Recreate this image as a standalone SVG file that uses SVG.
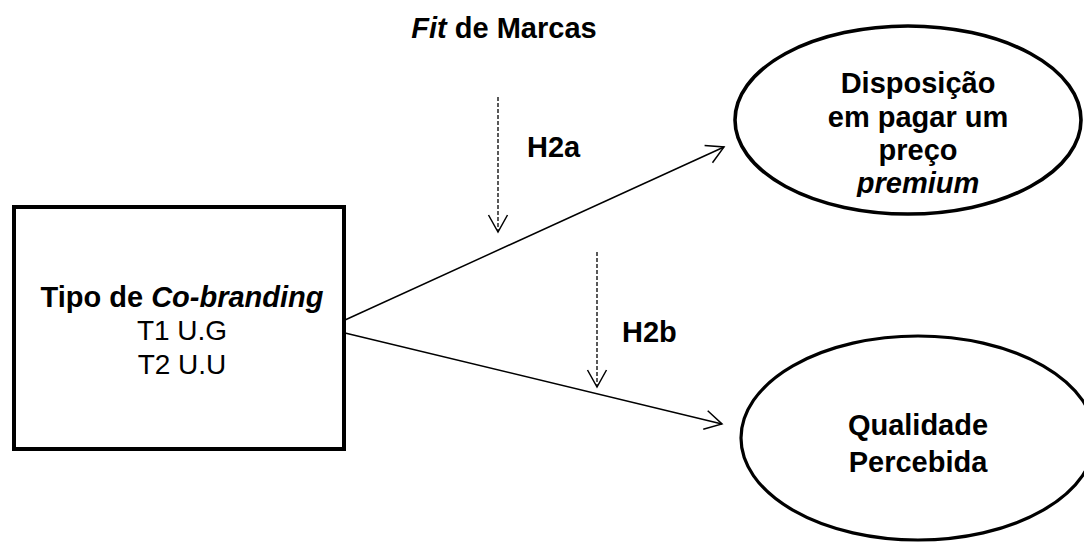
<svg xmlns="http://www.w3.org/2000/svg" width="1084" height="543" viewBox="0 0 1084 543">
<style>
text{font-family:"Liberation Sans",Arial,sans-serif;fill:#000}
.b{font-weight:bold;font-size:29px}
.r{font-size:28px}
.i{font-style:italic}
.node{fill:#fff;stroke:#000}
.conn{stroke:#000;fill:none;stroke-width:1.5}
.dash{stroke-width:1.3;stroke-dasharray:4 2}
</style>
<defs>
<marker id="ah" markerUnits="userSpaceOnUse" markerWidth="24" markerHeight="24" viewBox="-20 -12 24 24" refX="0" refY="0" orient="auto">
<path d="M-17,-9.5 L0,0 L-17,9.5" fill="none" stroke="#000" stroke-width="1.5"/>
</marker>
<clipPath id="clipD"><rect x="760" y="60" width="320" height="137"/></clipPath>
</defs>
<g id="connectors">
<line class="conn" x1="345" y1="320" x2="724" y2="147" marker-end="url(#ah)"/>
<line class="conn" x1="345" y1="333" x2="722" y2="424" marker-end="url(#ah)"/>
<line class="conn dash" x1="498" y1="97" x2="498" y2="232" marker-end="url(#ah)"/>
<line class="conn dash" x1="597" y1="252" x2="597" y2="387" marker-end="url(#ah)"/>
</g>
<g id="fit">
<text class="b" x="504" y="38" text-anchor="middle"><tspan class="i">Fit</tspan> de Marcas</text>
</g>
<g id="h2a"><text class="b" x="527" y="157">H2a</text></g>
<g id="h2b"><text class="b" x="622" y="342">H2b</text></g>
<g id="tipo">
<rect class="node" x="14" y="207" width="330" height="242" stroke-width="4"/>
<text class="b" x="182" y="307" text-anchor="middle">Tipo de <tspan class="i">Co-branding</tspan></text>
<text class="r" x="182" y="340" text-anchor="middle">T1 U.G</text>
<text class="r" x="182" y="374" text-anchor="middle">T2 U.U</text>
</g>
<g id="disposicao">
<ellipse class="node" cx="908" cy="120" rx="173" ry="94" stroke-width="3.6"/>
<g clip-path="url(#clipD)">
<text class="b" x="918" y="93" text-anchor="middle">Disposição</text>
<text class="b" x="918" y="127" text-anchor="middle">em pagar um</text>
<text class="b" x="918" y="160" text-anchor="middle">preço</text>
<text class="b i" x="918" y="193" text-anchor="middle">premium</text>
</g>
</g>
<g id="qualidade">
<ellipse class="node" cx="918" cy="438" rx="177" ry="102" stroke-width="3.2"/>
<text class="b" x="918" y="435" text-anchor="middle">Qualidade</text>
<text class="b" x="918" y="472" text-anchor="middle">Percebida</text>
</g>
</svg>
